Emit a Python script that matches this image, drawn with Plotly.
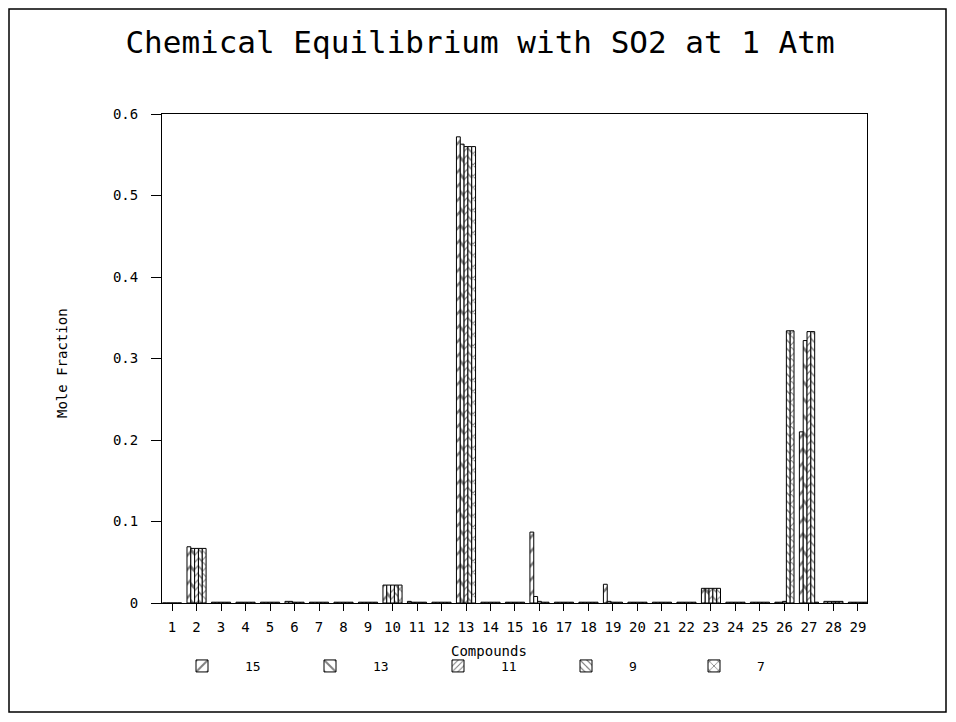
import plotly.graph_objects as go

categories = list(range(1, 30))
series_names = ["15", "13", "11", "9", "7"]

s15 = [0, 0.069, 0.001, 0.001, 0.001, 0.002, 0.001, 0.001, 0.001, 0.022,
       0.002, 0.001, 0.572, 0.001, 0.001, 0.087, 0.001, 0.001, 0.023, 0.001,
       0.001, 0.001, 0.018, 0.001, 0.001, 0.001, 0.210, 0.002, 0.001]
s13 = [0, 0.067, 0.001, 0.001, 0.001, 0.002, 0.001, 0.001, 0.001, 0.022,
       0.001, 0.001, 0.563, 0.001, 0.001, 0.008, 0.001, 0.001, 0.002, 0.001,
       0.001, 0.001, 0.018, 0.001, 0.001, 0.001, 0.322, 0.002, 0.001]
s11 = [0, 0.067, 0.001, 0.001, 0.001, 0.001, 0.001, 0.001, 0.001, 0.022,
       0.001, 0.001, 0.560, 0.001, 0.001, 0.002, 0.001, 0.001, 0.001, 0.001,
       0.001, 0.001, 0.018, 0.001, 0.001, 0.002, 0.333, 0.002, 0.001]
s9 = [0, 0.067, 0.001, 0.001, 0.001, 0.001, 0.001, 0.001, 0.001, 0.022,
      0.001, 0.001, 0.560, 0.001, 0.001, 0.001, 0.001, 0.001, 0.001, 0.001,
      0.001, 0.001, 0.018, 0.001, 0.001, 0.334, 0.333, 0.002, 0.001]
s7 = [0, 0.067, 0.001, 0.001, 0.001, 0.001, 0.001, 0.001, 0.001, 0.022,
      0.001, 0.001, 0.560, 0.001, 0.001, 0.001, 0.001, 0.001, 0.001, 0.001,
      0.001, 0.001, 0.018, 0.001, 0.001, 0.334, 0.001, 0.002, 0.001]

series_values = [s15, s13, s11, s9, s7]
patterns = [("/", 10), ("\\", 12), ("/", 5), ("\\", 6), ("x", 8)]

ytick_vals = [0, 0.1, 0.2, 0.3, 0.4, 0.5, 0.6]
ytick_text = ["0", "0.1", "0.2", "0.3", "0.4", "0.5", "0.6"]

FONT = "DejaVu Sans Mono"

# figure geometry (page has an 8px body margin)
W, H = 940, 706
PL, PR, PT, PB = 154, 859, 106, 595
PW, PH = PR - PL, PB - PT


def px(xf):
    return (xf - PL) / PW


def py(yf):
    return (PB - yf) / PH


fig = go.Figure()
for name, vals, (shape, size) in zip(series_names, series_values, patterns):
    fig.add_trace(go.Bar(
        x=categories, y=vals, name=name,
        marker=dict(color="white", line=dict(color="black", width=1),
                    pattern=dict(shape=shape, size=size, solidity=0.25,
                                 fgcolor="black", bgcolor="white")),
    ))

fig.update_layout(
    width=W, height=H,
    paper_bgcolor="white", plot_bgcolor="white",
    margin=dict(l=PL, r=W - PR, t=PT, b=H - PB),
    barmode="group", bargap=0.22, bargroupgap=0,
    font=dict(family=FONT, color="black", size=13),
    title=dict(text="Chemical Equilibrium with SO2 at 1 Atm",
               x=472 / W, xref="container", xanchor="center",
               y=1 - 34 / H, yref="container", yanchor="middle",
               font=dict(family=FONT, size=31, color="black")),
    showlegend=True,
    legend=dict(orientation="h", x=px(151), xanchor="left",
                y=py(658), yanchor="middle",
                itemwidth=76,
                entrywidth=37, entrywidthmode="pixels",
                font=dict(family=FONT, size=13), bgcolor="rgba(0,0,0,0)"),
    xaxis=dict(range=[0.59, 29.37], tickmode="array", tickvals=categories,
               ticktext=[str(c) for c in categories],
               ticks="outside", ticklen=7, tickcolor="black",
               ticklabelstandoff=4,
               showline=True, linecolor="black", linewidth=1, mirror=True,
               showgrid=False, zeroline=False,
               tickfont=dict(family=FONT, size=14)),
    yaxis=dict(range=[0, 0.6], tickmode="array", tickvals=ytick_vals,
               ticktext=ytick_text,
               ticks="outside", ticklen=10, tickcolor="black",
               ticklabelstandoff=10,
               showline=True, linecolor="black", linewidth=1, mirror=True,
               showgrid=False, zeroline=False,
               tickfont=dict(family=FONT, size=14)),
    annotations=[
        dict(text="Compounds", xref="paper", yref="paper",
             x=px(481), y=py(643),
             xanchor="center", yanchor="middle", showarrow=False,
             font=dict(family=FONT, size=14)),
        dict(text="Mole Fraction", xref="paper", yref="paper",
             x=px(54), y=py(355), textangle=-90,
             xanchor="center", yanchor="middle", showarrow=False,
             font=dict(family=FONT, size=14)),
    ],
    shapes=[
        dict(type="rect", xref="paper", yref="paper",
             x0=px(1), x1=px(938),
             y0=py(704), y1=py(1),
             line=dict(color="black", width=1.5), fillcolor="rgba(0,0,0,0)"),
    ],
)

fig.write_html("out.html")
